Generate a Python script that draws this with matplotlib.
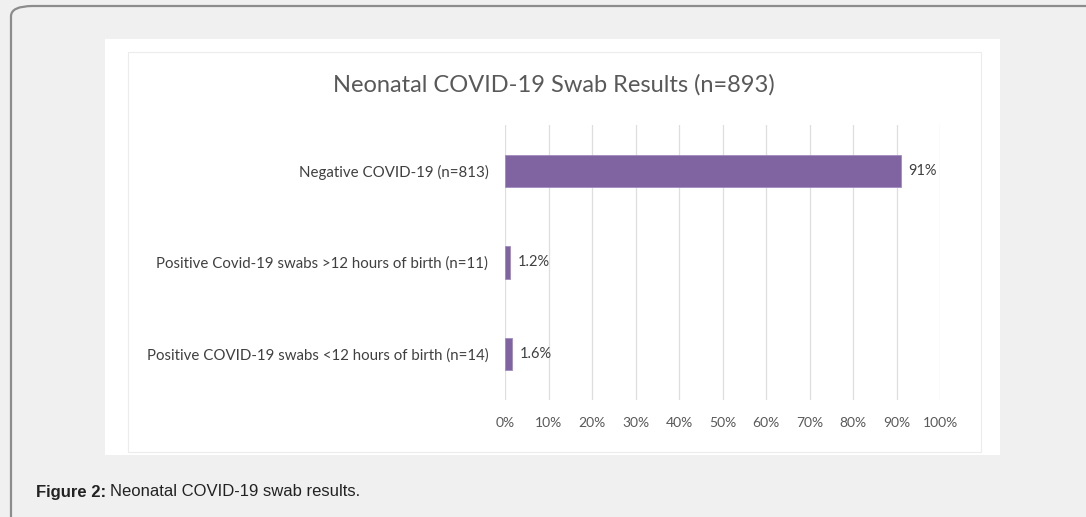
import matplotlib
matplotlib.use("Agg")
import matplotlib.pyplot as plt
from matplotlib.patches import FancyBboxPatch, Rectangle

categories = [
    "Negative COVID-19 (n=813)",
    "Positive Covid-19 swabs >12 hours of birth (n=11)",
    "Positive COVID-19 swabs <12 hours of birth (n=14)",
]
values = [91, 1.2, 1.6]
value_labels = ["91%", "1.2%", "1.6%"]
xticks = list(range(0, 101, 10))
xtick_labels = [f"{t}%" for t in xticks]

W, H = 1086, 517
fig = plt.figure(figsize=(W / 100, H / 100), dpi=100)
fig.patch.set_facecolor("#f0f0f0")

def fx(px):
    return px / W

def fy(py):
    return 1 - py / H

# outer frame
frame = FancyBboxPatch((fx(11), fy(540)), fx(1200), fy(6) - fy(540),
                       boxstyle="round,pad=0,rounding_size=0.02",
                       transform=fig.transFigure, facecolor="#f0f0f0",
                       edgecolor="#8c8c8c", linewidth=1.6, zorder=0)
fig.add_artist(frame)

# white chart panel
fig.add_artist(Rectangle((fx(105), fy(455)), fx(1000) - fx(105), fy(39) - fy(455),
                         transform=fig.transFigure, facecolor="white",
                         edgecolor="none", zorder=1))
fig.add_artist(Rectangle((fx(128), fy(452)), fx(981) - fx(128), fy(52) - fy(452),
                         transform=fig.transFigure, facecolor="none",
                         edgecolor="#ececec", linewidth=0.8, zorder=1))

font = "Lato"
ax = fig.add_axes([fx(505), fy(400), fx(940) - fx(505), fy(125) - fy(400)])
ax.set_facecolor("none")
ax.set_zorder(2)
ypos = list(range(len(categories)))
ax.barh(ypos, values, height=0.35, color="#8064a2", edgecolor="#a08cc0",
        linewidth=0.6, zorder=3)
ax.set_xlim(0, 100)
ax.set_ylim(2.5, -0.5)
ax.set_xticks(xticks)
ax.set_xticklabels(xtick_labels, fontsize=10, color="#595959", family=font)
ax.set_yticks(ypos)
ax.set_yticklabels(categories, fontsize=10.8, color="#404040", family=font)
ax.tick_params(axis="both", length=0)
ax.tick_params(axis="x", pad=12)
ax.tick_params(axis="y", pad=12)
ax.grid(axis="x", color="#dedede", linewidth=0.9, zorder=0)
for s in ax.spines.values():
    s.set_visible(False)
for y, v, lab in zip(ypos, values, value_labels):
    ax.text(v + 1.8, y, lab, va="center", ha="left", fontsize=10.5,
            color="#404040", family=font)

fig.text(fx(554), fy(85), "Neonatal COVID-19 Swab Results (n=893)", ha="center",
         va="center", fontsize=17, color="#595959", family=font, zorder=3)

cap_bold = fig.text(fx(36), fy(492), "Figure 2:", ha="left", va="center", fontsize=12,
                    fontweight="bold", color="#222222", family="Liberation Sans")
fig.canvas.draw()
bb = cap_bold.get_window_extent()
fig.text((bb.x1 + 4) / W, fy(492), "Neonatal COVID-19 swab results.", ha="left",
         va="center", fontsize=12, color="#222222", family="Liberation Sans")

fig.savefig("out.png", dpi=100, facecolor=fig.get_facecolor())
